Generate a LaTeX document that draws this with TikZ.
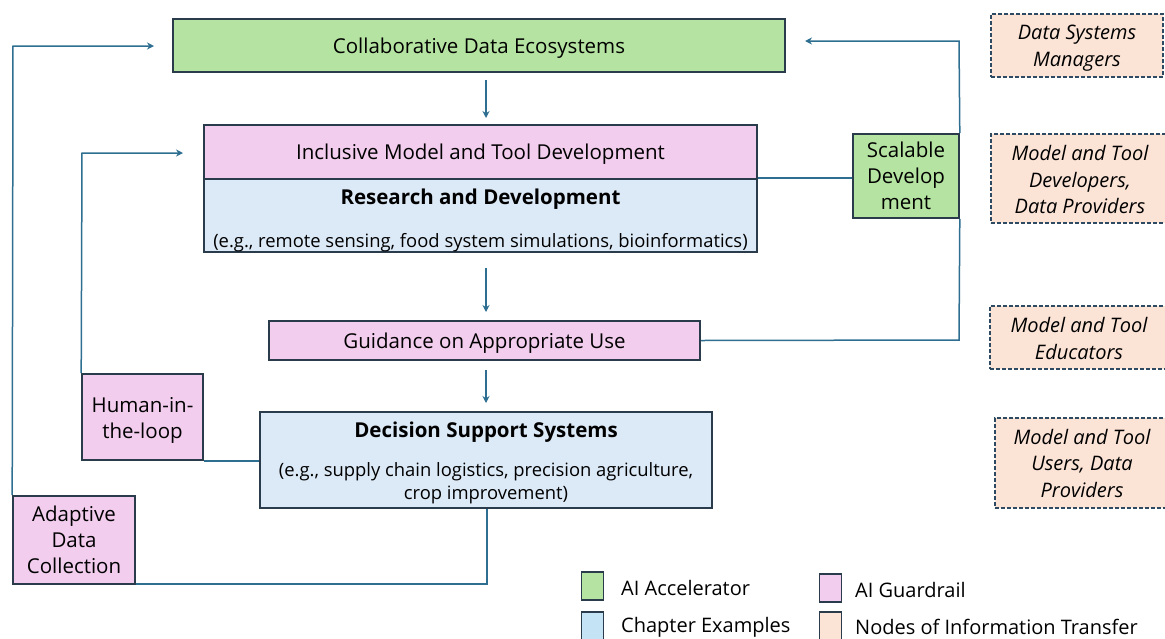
\documentclass[tikz,border=0pt]{standalone}
\usepackage{fontspec}
\setmainfont{Open Sans}
\usetikzlibrary{arrows.meta}
\definecolor{gfill}{HTML}{B5E3A1}
\definecolor{pfill}{HTML}{F2CDEE}
\definecolor{bfill}{HTML}{DCE9F6}
\definecolor{lbfill}{HTML}{C4E4F6}
\definecolor{ofill}{HTML}{FBE3D6}
\definecolor{edge}{HTML}{2A3B4C}
\definecolor{conn}{HTML}{2D6E91}
\definecolor{dashc}{HTML}{2E4A63}
\begin{document}
\begin{tikzpicture}[x=1pt,y=-1pt,
  box/.style={draw=edge,line width=1.6pt,inner sep=0pt},
  gbox/.style={box,fill=gfill},
  pbox/.style={box,fill=pfill},
  bbox/.style={box,fill=bfill},
  obox/.style={draw=dashc,line width=1.6pt,dash pattern=on 4pt off 2pt,fill=ofill,inner sep=0pt},
  txt/.style={inner sep=0pt,align=center,font=\fontsize{20.5}{26}\selectfont},
  itxt/.style={inner sep=0pt,align=center,font=\fontsize{20}{26.5}\selectfont\itshape},
  conn/.style={draw=conn,line width=1.5pt},
  arr/.style={conn,-{Stealth[length=7pt,width=7pt]}},
  lsq/.style={draw=edge,line width=1.4pt,minimum width=22pt,minimum height=28pt,inner sep=0pt},
  ltxt/.style={anchor=west,inner sep=0pt,font=\fontsize{20}{20}\selectfont}
]
\useasboundingbox (0,0) rectangle (1165,638);

% main boxes
\node[gbox,minimum width=612pt,minimum height=53pt] (collab) at (479,45.5) {};
\node[txt] (collabT) at ([yshift=-3pt]collab.center) {Collaborative Data Ecosystems};
\node[pbox,minimum width=553pt,minimum height=54pt] (incl) at (480.5,152) {};
\node[txt] (inclT) at ([yshift=-2pt]incl.center) {Inclusive Model and Tool Development};
\node[bbox,minimum width=553pt,minimum height=73pt] (rd) at (480.5,215.5) {};
\node[txt,font=\fontsize{20.5}{43}\selectfont] (rdT) at ([yshift=-5pt]rd.center) {\textbf{Research and Development}\\{\fontsize{18.4}{20}\selectfont(e.g., remote sensing, food system simulations, bioinformatics)}};
\node[gbox,minimum width=106pt,minimum height=84pt] (scal) at (906,176) {};
\node[txt] (scalT) at (scal.center) {Scalable\\Develop\\ment};
\node[pbox,minimum width=431pt,minimum height=39pt] (guid) at (484.5,340.5) {};
\node[txt] (guidT) at ([yshift=-3pt]guid.center) {Guidance on Appropriate Use};
\node[pbox,minimum width=121pt,minimum height=86pt] (human) at (142.5,417) {};
\node[txt] (humanT) at ([yshift=-3pt]human.center) {Human-in-\\the-loop};
\node[bbox,minimum width=452pt,minimum height=96pt] (dss) at (486,460) {};
\node[txt,font=\fontsize{18.4}{23}\selectfont] (dssT) at ([yshift=-3pt]dss.center) {{\fontsize{20.5}{23}\selectfont\textbf{Decision Support Systems}}\\[16pt](e.g., supply chain logistics, precision agriculture,\\crop improvement)};
\node[pbox,minimum width=122pt,minimum height=88pt] (adapt) at (74,540) {};
\node[txt] (adaptT) at (adapt.center) {Adaptive\\Data\\Collection};

% information transfer nodes
\node[obox,minimum width=172pt,minimum height=63pt] (dsm) at (1077,45.5) {};
\node[itxt] (dsmT) at ([yshift=-2.5pt]dsm.center) {Data Systems\\Managers};
\node[obox,minimum width=178pt,minimum height=89pt] (dev) at (1080,178.5) {};
\node[itxt] (devT) at ([yshift=-1pt]dev.center) {Model and Tool\\Developers,\\Data Providers};
\node[obox,minimum width=178pt,minimum height=63pt] (edu) at (1079,337.5) {};
\node[itxt] (eduT) at ([yshift=-1pt]edu.center) {Model and Tool\\Educators};
\node[obox,minimum width=174pt,minimum height=90pt] (usr) at (1082,463) {};
\node[itxt] (usrT) at (usr.center) {Model and Tool\\Users, Data\\Providers};

% connector points
\coordinate (c1a) at (486,80);
\coordinate (c1b) at (486,118);
\coordinate (c2a) at (486,268);
\coordinate (c2b) at (486,312);
\coordinate (c3a) at (486,370);
\coordinate (c3b) at (486,403);
\coordinate (lowturn) at (487,584);
\coordinate (outtop) at (13,46);
\coordinate (outend) at (154,46);
\coordinate (intop) at (82,153);
\coordinate (inend) at (183,153);
\coordinate (rtop) at (959,41);
\coordinate (rend) at (805,41);
\coordinate (rbot) at (959,340);

\draw[arr] (c1a) -- (c1b);
\draw[arr] (c2a) -- (c2b);
\draw[arr] (c3a) -- (c3b);
% outer loop
\draw[conn] (dss.south -| lowturn) -- (lowturn) -- (adapt.south east |- lowturn);
\draw[arr] (adapt.north west) -- (outtop) -- (outend);
% human loop
\draw[conn] (dss.west |- human.south east) -- (human.south east);
\draw[arr] (human.north west) -- (intop) -- (inend);
% scalable loop
\draw[conn] (rd.north east) -- (scal.west |- rd.north east);
\draw[conn] (guid.east) -- (rbot) -- (scal.south east);
\draw[arr] (scal.north east) -- (rtop) -- (rend);

% legend
\node[lsq,fill=gfill] (lg1) at (592.5,586) {};
\node[ltxt] (lt1) at (621,588) {AI Accelerator};
\node[lsq,fill=pfill] (lg2) at (830.5,588) {};
\node[ltxt] (lt2) at (855,590) {AI Guardrail};
\node[lsq,fill=lbfill] (lg3) at (592.5,626) {};
\node[ltxt] (lt3) at (621,627) {Chapter Examples};
\node[lsq,fill=ofill] (lg4) at (830.5,626) {};
\node[ltxt] (lt4) at (855,627) {Nodes of Information Transfer};
\end{tikzpicture}
\end{document}
